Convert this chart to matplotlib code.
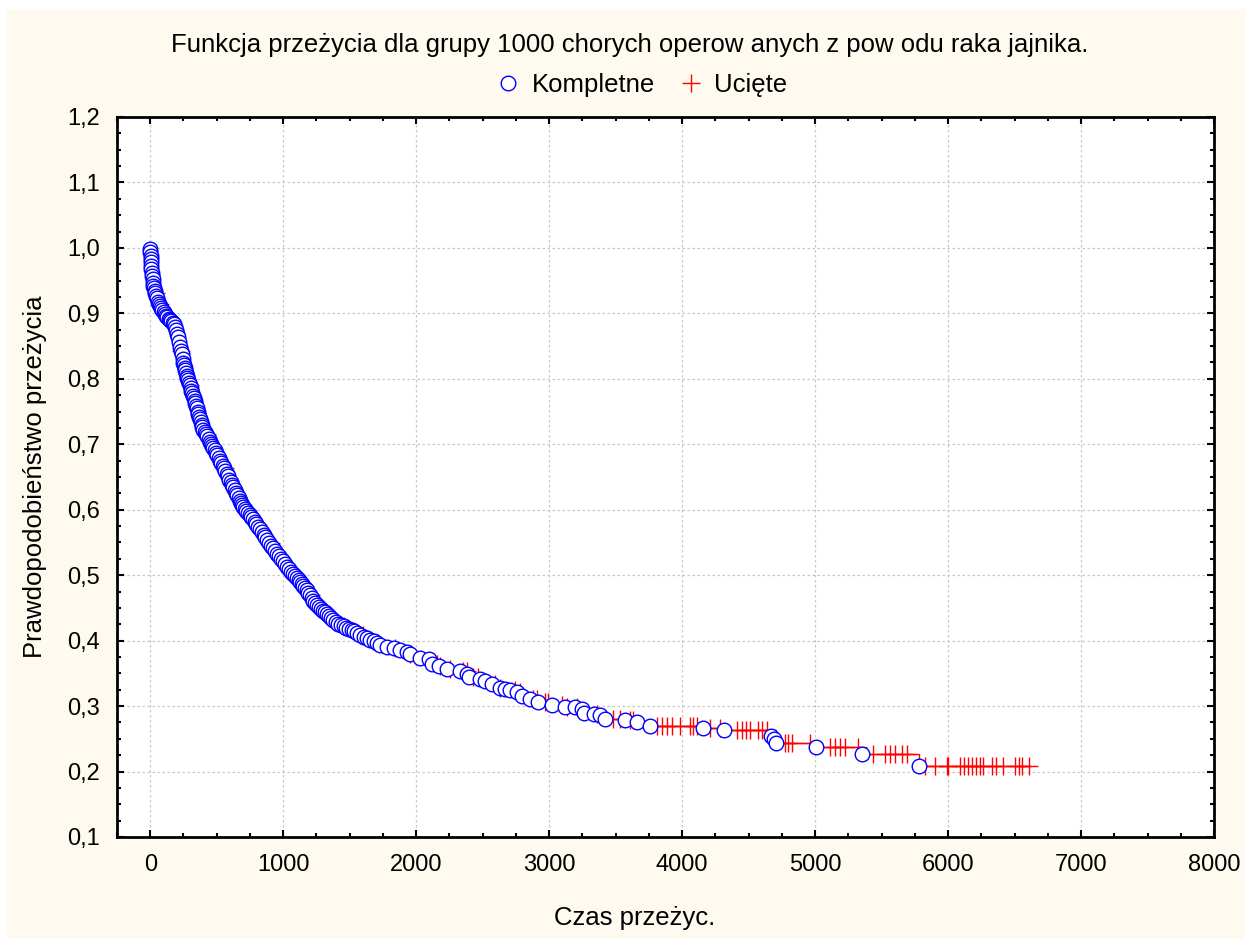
import numpy as np
import matplotlib.pyplot as plt
from matplotlib.ticker import MultipleLocator, FuncFormatter
from matplotlib.patches import Rectangle

plt.rcParams['font.family'] = ['Liberation Sans', 'DejaVu Sans']

# completed observations (death times) and Kaplan-Meier survival at them
event_days = [0, 1, 2, 4, 5, 7, 9, 11, 14, 17, 20, 24, 29, 34, 38,
              45, 52, 60, 68, 76, 84, 92, 100, 110, 120, 128,
              138, 148, 158, 168, 178, 188, 196, 204, 211, 218, 226,
              232, 238, 243, 248, 253, 258, 263, 268, 274, 280, 286, 292, 298,
              304, 310, 316, 322, 328, 334, 338, 344, 350, 356, 362, 368, 374,
              380, 386, 391,
              400, 410, 420, 430, 440, 450, 460, 468, 474,
              484, 494, 504, 514, 524, 534, 544, 554, 564, 574, 584, 594, 604,
              614, 624, 634, 644, 654, 664, 674, 684, 692, 699,
              710, 722, 735, 748, 760, 772, 785, 798, 812, 825, 838, 852, 866,
              880, 895, 910, 925, 940, 955, 970, 985, 1000, 1015, 1030, 1045,
              1060, 1075, 1090, 1105, 1118, 1128,
              1140, 1152, 1165, 1178, 1190, 1202, 1214, 1226, 1240, 1255, 1270,
              1285, 1300, 1315, 1330, 1345, 1360, 1376, 1395, 1415, 1435, 1455,
              1475, 1495, 1515, 1535, 1556, 1580, 1605, 1630, 1655, 1680, 1707,
              1730, 1780, 1830, 1880, 1930, 1955, 2030, 2093, 2118, 2168, 2231,
              2331, 2381, 2394, 2482, 2519, 2570, 2632, 2670, 2707, 2757, 2795,
              2858, 2913, 3021, 3121, 3196, 3246, 3259, 3334, 3384, 3422, 3572,
              3660, 3760, 4158, 4316, 4669, 4690, 4707, 5008, 5352, 5778]
event_surv = [0.998, 0.993, 0.988, 0.983, 0.978, 0.973, 0.968, 0.962, 0.957,
              0.952, 0.947, 0.942, 0.938, 0.934, 0.931,
              0.927, 0.923, 0.918, 0.914, 0.911, 0.908, 0.905, 0.902, 0.899,
              0.896, 0.894,
              0.892, 0.890, 0.888, 0.886, 0.883, 0.879, 0.874, 0.869, 0.864,
              0.856, 0.848,
              0.843, 0.838, 0.831, 0.824, 0.821, 0.817, 0.813, 0.809, 0.805,
              0.802, 0.798, 0.794, 0.790, 0.786, 0.782, 0.778, 0.774, 0.770,
              0.766, 0.763, 0.759, 0.755, 0.750, 0.746, 0.742, 0.738, 0.734,
              0.730, 0.726,
              0.722, 0.719, 0.716, 0.712, 0.708, 0.704, 0.700, 0.697, 0.695,
              0.691, 0.687, 0.683, 0.679, 0.675, 0.671, 0.667, 0.663, 0.659,
              0.655, 0.651, 0.646, 0.642, 0.638, 0.634, 0.630, 0.626, 0.622,
              0.618, 0.614, 0.610, 0.607, 0.604,
              0.601, 0.598, 0.595, 0.592, 0.589, 0.586, 0.582, 0.578, 0.574,
              0.570, 0.566, 0.562, 0.558, 0.554, 0.549, 0.545, 0.541, 0.537,
              0.533, 0.529, 0.525, 0.521, 0.517, 0.513, 0.509, 0.505, 0.502,
              0.499, 0.496, 0.493, 0.490,
              0.487, 0.484, 0.480, 0.477, 0.473, 0.469, 0.465, 0.461, 0.458,
              0.455, 0.452, 0.449, 0.446, 0.443, 0.440, 0.437, 0.434, 0.431,
              0.428, 0.426, 0.424, 0.422, 0.420, 0.418, 0.416, 0.414, 0.411,
              0.409, 0.406, 0.404, 0.401, 0.399, 0.396,
              0.393, 0.390, 0.388, 0.386, 0.382, 0.379, 0.374, 0.372, 0.365,
              0.362, 0.357, 0.354, 0.349, 0.344, 0.342, 0.339, 0.334, 0.328,
              0.326, 0.324, 0.321, 0.316, 0.311, 0.306, 0.302, 0.299, 0.298,
              0.296, 0.289, 0.288, 0.286, 0.281, 0.278, 0.275, 0.270, 0.266,
              0.263, 0.255, 0.250, 0.244, 0.237, 0.227, 0.208]

# censored observations (still alive at last contact)
censored_days = [42, 75, 150, 235, 300, 425, 560, 645, 735, 905, 1050, 1210,
                 1350, 1460, 1580, 1600, 1715, 1842, 1955, 2160, 2180, 2256,
                 2355, 2380, 2430, 2465, 2595, 2632, 2745, 2782, 2880, 2910,
                 2970, 2995, 3100, 3135, 3211, 3360, 3482, 3534, 3610, 3632,
                 3813, 3850, 3888, 3925, 3986, 4061, 4083, 4113, 4211, 4286,
                 4414, 4450, 4480, 4512, 4572, 4600, 4640, 4775, 4800, 4828,
                 4963, 5114, 5150, 5190, 5226, 5324, 5437, 5527, 5560, 5600,
                 5650, 5692, 5828, 5903, 5993, 6000, 6091, 6120, 6150, 6180,
                 6210, 6240, 6264, 6332, 6360, 6415, 6505, 6530, 6557, 6610]

ev_t = np.array(event_days, dtype=float)
ev_s = np.array(event_surv)
cen_t = np.array(censored_days, dtype=float)
idx = np.searchsorted(ev_t, cen_t, side='right') - 1
cen_s = np.where(idx >= 0, ev_s[np.clip(idx, 0, None)], 1.0)

fig = plt.figure(figsize=(12.45, 9.39), dpi=100)
fig.patch.set_facecolor('white')
fig.patches.append(Rectangle((7 / 1245, 0), 1, 1 - 9 / 939, transform=fig.transFigure,
                             facecolor='#FFFAF0', edgecolor='none', zorder=-10))

ax = fig.add_axes([117 / 1245, 1 - 837 / 939, 1097 / 1245, 720 / 939])
ax.set_facecolor('white')

# survival step line
step_t = np.concatenate([[0], ev_t, [cen_t[-1]]])
step_s = np.concatenate([[1.0], ev_s, [ev_s[-1]]])
ax.step(step_t, step_s, where='post', color='red', lw=1.0, zorder=2)

ax.plot(cen_t, cen_s, '+', color='red', ms=12.5, mew=1.0, zorder=2, label='Ucięte')
ax.plot(ev_t, ev_s, 'o', mfc='white', mec='blue', ms=10.5, mew=1.0, zorder=3,
        label='Kompletne')

ax.set_xlim(-250, 8000)
ax.set_ylim(0.1, 1.2)
ax.xaxis.set_major_locator(MultipleLocator(1000))
ax.xaxis.set_minor_locator(MultipleLocator(250))
ax.yaxis.set_major_locator(MultipleLocator(0.1))
ax.yaxis.set_minor_locator(MultipleLocator(0.025))
ax.yaxis.set_major_formatter(FuncFormatter(lambda v, p: f'{v:.1f}'.replace('.', ',')))
ax.tick_params(which='both', direction='in', top=True, right=True, width=1.5,
               labelsize=17, pad=12)
ax.tick_params(which='major', length=5)
ax.tick_params(which='minor', length=3)
ax.grid(True, which='major', color='#c8c8c8', linestyle=(0, (2, 2)), lw=0.9)
ax.set_axisbelow(True)
for sp in ax.spines.values():
    sp.set_linewidth(2)
    sp.set_color('black')

fig.text(630 / 1245, 1 - 45 / 939, 'Funkcja przeżycia dla grupy 1000 chorych operow anych z pow odu raka jajnika.',
         ha='center', va='center', fontsize=18.5)
handles, labels = ax.get_legend_handles_labels()
fig.legend(handles[::-1], labels[::-1], loc='center', bbox_to_anchor=(640 / 1245, 1 - 85 / 939),
           ncol=2, frameon=False, fontsize=18.5, handletextpad=0.3, columnspacing=0.8,
           handlelength=1.2)
fig.text(635 / 1245, 1 - 918 / 939, 'Czas przeżyc.', ha='center', va='center', fontsize=18.5)
fig.text(35 / 1245, 1 - 477 / 939, 'Prawdopodobieństwo przeżycia', ha='center', va='center',
         rotation=90, fontsize=18.5)

fig.savefig('out.png', dpi=100, facecolor=fig.get_facecolor())
